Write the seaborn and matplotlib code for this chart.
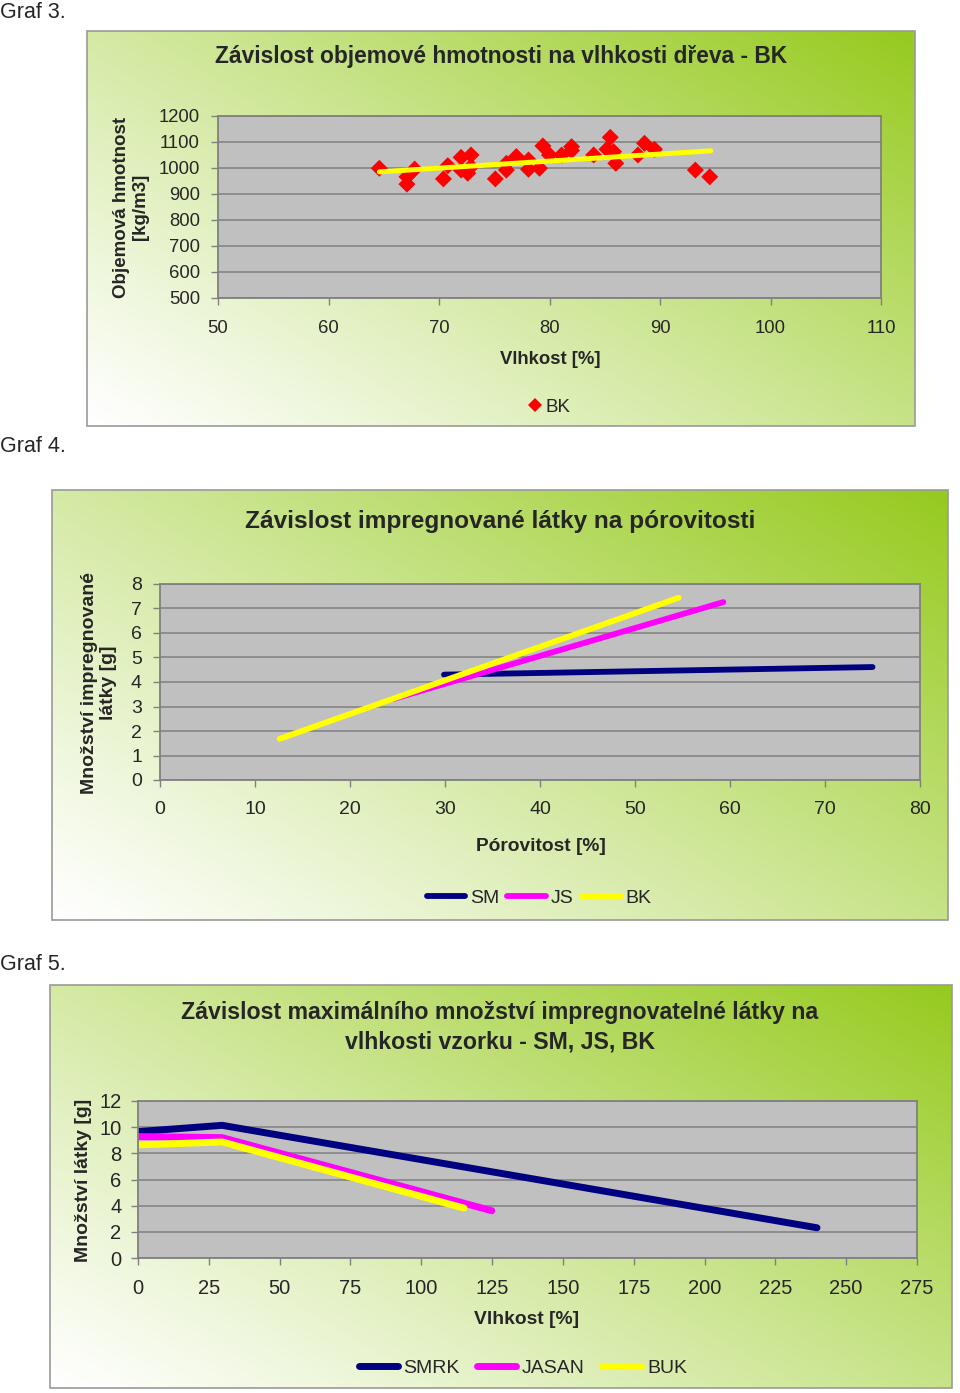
import numpy as np
import pandas as pd
import matplotlib
matplotlib.use("Agg")
import matplotlib.pyplot as plt
from matplotlib.lines import Line2D
from matplotlib.patches import Rectangle
import seaborn as sns

# ---------------- data ----------------
# Graf 3 - density vs moisture (BK)
bk_moisture = [64.6, 67.1, 67.1, 67.8, 70.4, 70.8, 72.0, 72.9, 72.0, 72.6, 72.9,
               75.1, 76.1, 76.1, 77.0, 78.1, 78.1, 79.1, 79.4, 80.0, 81.1, 82.0,
               82.0, 84.0, 85.2, 85.5, 85.8, 86.0, 88.0, 88.6, 89.5, 93.2, 94.5]
bk_density = [999, 966, 938, 996, 958, 1009, 1041, 1050, 992, 980, 1005,
              958, 992, 1018, 1044, 1031, 995, 999, 1085, 1050, 1050, 1082,
              1067, 1050, 1072, 1118, 1063, 1018, 1050, 1095, 1072, 992, 966]
trend_x = [64.6, 94.6]
trend_y = [985, 1066]

# Graf 4 - impregnated substance vs porosity
por_series = ["SM", "SM", "JS", "JS", "BK", "BK"]
por_x = [29.9, 75.0, 24.5, 59.3, 12.6, 54.6]
por_y = [4.30, 4.61, 3.30, 7.26, 1.68, 7.44]

# Graf 5 - max impregnable substance vs moisture
moist_series = ["SMRK"] * 3 + ["JASAN"] * 3 + ["BUK"] * 3
moist_x = [0, 29.7, 239.7, 0, 29.7, 124.9, 0, 29.7, 115.1]
moist_y = [9.66, 10.14, 2.31, 9.28, 9.20, 3.61, 8.64, 8.87, 3.81]

colors4 = {"SM": "#000080", "JS": "#FF00FF", "BK": "#FFFF00"}
colors5 = {"SMRK": "#000080", "JASAN": "#FF00FF", "BUK": "#FFFF00"}

# ---------------- style ----------------
sns.set_theme(style="white")
plt.rcParams["font.family"] = ["Liberation Sans", "DejaVu Sans"]

W, H = 960, 1393
fig = plt.figure(figsize=(W / 100, H / 100), dpi=100)
fig.patch.set_facecolor("white")


def fx(px):
    return px / W


def fy(py):
    return 1 - py / H


def gradient_box(x0, y0, x1, y1):
    ax = fig.add_axes([fx(x0), fy(y1), fx(x1 - x0), (y1 - y0) / H], zorder=0)
    h, w = 200, 300
    xn = np.linspace(0, 1, w)[None, :]
    yn = np.linspace(1, 0, h)[:, None]
    t = (0.62 * xn + 0.48 * yn) / 1.10
    t = np.clip(t, 0, 1) ** 1.1
    light = np.array([1.0, 1.0, 1.0])
    dark = np.array([150, 202, 30]) / 255.0
    img = light[None, None, :] * (1 - t[..., None]) + dark[None, None, :] * t[..., None]
    ax.imshow(img, aspect="auto", extent=[0, 1, 0, 1], interpolation="bilinear")
    ax.set_xlim(0, 1)
    ax.set_ylim(0, 1)
    ax.axis("off")
    ax.add_patch(Rectangle((0, 0), 1, 1, transform=ax.transAxes, fill=False,
                           edgecolor="#9a9a9a", linewidth=1.2, clip_on=False))
    return ax


def plot_axes(x0, y0, x1, y1):
    ax = fig.add_axes([fx(x0), fy(y1), fx(x1 - x0), (y1 - y0) / H], zorder=2)
    ax.set_facecolor("#C0C0C0")
    for s in ax.spines.values():
        s.set_color("#808080")
        s.set_linewidth(1.3)
    ax.grid(axis="y", color="#808080", linewidth=1.1)
    ax.grid(axis="x", visible=False)
    ax.set_axisbelow(True)
    ax.tick_params(axis="both", which="major", direction="out", length=5,
                   width=1, color="#808080", left=True, bottom=True)
    return ax


# ---------------- Graf 3 ----------------
fig.text(fx(0), fy(12), "Graf 3.", fontsize=15.5, va="center", ha="left")
gradient_box(87, 31, 915, 426)
ax1 = plot_axes(218, 116, 881, 298)
sns.scatterplot(x=bk_moisture, y=bk_density, marker="D", color="#FF0000",
                s=75, edgecolor="none", ax=ax1, zorder=3, legend=False)
ax1.plot(trend_x, trend_y, color="#FFFF00", linewidth=3.6,
         solid_capstyle="round", zorder=4)
ax1.set_xlim(50, 110)
ax1.set_ylim(500, 1200)
ax1.set_xticks(np.arange(50, 111, 10))
ax1.set_yticks(np.arange(500, 1201, 100))
ax1.tick_params(axis="x", labelsize=13.3, pad=11)
ax1.tick_params(axis="y", labelsize=13.3, pad=8)
fig.text(fx(501), fy(57), "Závislost objemové hmotnosti na vlhkosti dřeva - BK",
         fontsize=16.4, fontweight="bold", ha="center", va="center")
fig.text(fx(550), fy(359), "Vlhkost [%]", fontsize=13.3, fontweight="bold",
         ha="center", va="center")
fig.text(fx(131), fy(207), "Objemová hmotnost\n[kg/m3]", fontsize=13.5,
         fontweight="bold", ha="center", va="center", rotation=90,
         multialignment="center", linespacing=1.15)
leg1 = [Line2D([], [], linestyle="none", marker="D", color="#FF0000",
               markersize=7.5, markeredgewidth=0)]
fig.legend(leg1, ["BK"], loc="center", bbox_to_anchor=(fx(549), fy(407)),
           frameon=False, fontsize=13.5, handletextpad=0.15, handlelength=0.8)

# ---------------- Graf 4 ----------------
fig.text(fx(0), fy(447), "Graf 4.", fontsize=15.5, va="center", ha="left")
gradient_box(52, 490, 948, 920)
ax2 = plot_axes(160, 584, 920, 780)
df4 = pd.DataFrame({"series": por_series, "x": por_x, "y": por_y})
sns.lineplot(data=df4, x="x", y="y", hue="series", palette=colors4,
             estimator=None, sort=False, linewidth=4.2, ax=ax2, legend=False,
             solid_capstyle="round")
ax2.set_xlim(0, 80)
ax2.set_ylim(0, 8)
ax2.set_xticks(np.arange(0, 81, 10))
ax2.set_yticks(np.arange(0, 9, 1))
ax2.tick_params(axis="x", labelsize=14, pad=10)
ax2.tick_params(axis="y", labelsize=14, pad=8)
ax2.set_xlabel("")
ax2.set_ylabel("")
fig.text(fx(500), fy(521), "Závislost impregnované látky na pórovitosti",
         fontsize=17.6, fontweight="bold", ha="center", va="center")
fig.text(fx(541), fy(846), "Pórovitost [%]", fontsize=13.8, fontweight="bold",
         ha="center", va="center")
fig.text(fx(99), fy(683), "Množství impregnované\nlátky [g]", fontsize=14,
         fontweight="bold", ha="center", va="center", rotation=90,
         multialignment="center", linespacing=1.1)
leg2 = [Line2D([], [], color=colors4[k], linewidth=4.2, solid_capstyle="round")
        for k in ["SM", "JS", "BK"]]
fig.legend(leg2, ["SM", "JS", "BK"], loc="center", ncol=3,
           bbox_to_anchor=(fx(539), fy(898)), frameon=False, fontsize=14,
           handlelength=2.0, handletextpad=0.25, columnspacing=0.4)

# ---------------- Graf 5 ----------------
fig.text(fx(0), fy(965), "Graf 5.", fontsize=15.5, va="center", ha="left")
gradient_box(50, 985, 952, 1388)
ax3 = plot_axes(138, 1101, 917, 1258)
df5 = pd.DataFrame({"series": moist_series, "x": moist_x, "y": moist_y})
sns.lineplot(data=df5, x="x", y="y", hue="series", palette=colors5,
             estimator=None, sort=False, linewidth=5.0, ax=ax3, legend=False,
             solid_capstyle="round")
ax3.set_xlim(0, 275)
ax3.set_ylim(0, 12)
ax3.set_xticks(np.arange(0, 276, 25))
ax3.set_yticks(np.arange(0, 13, 2))
ax3.tick_params(axis="x", labelsize=14.5, pad=10)
ax3.tick_params(axis="y", labelsize=14.5, pad=7)
ax3.set_xlabel("")
ax3.set_ylabel("")
fig.text(fx(500), fy(1027),
         "Závislost maximálního množství impregnovatelné látky na\nvlhkosti vzorku - SM, JS, BK",
         fontsize=16.7, fontweight="bold", ha="center", va="center",
         multialignment="center", linespacing=1.35)
fig.text(fx(527), fy(1320), "Vlhkost [%]", fontsize=13.9, fontweight="bold",
         ha="center", va="center")
fig.text(fx(84), fy(1180), "Množství látky [g]", fontsize=14,
         fontweight="bold", ha="center", va="center", rotation=90)
leg3 = [Line2D([], [], color=colors5[k], linewidth=5.0, solid_capstyle="round")
        for k in ["SMRK", "JASAN", "BUK"]]
fig.legend(leg3, ["SMRK", "JASAN", "BUK"], loc="center", ncol=3,
           bbox_to_anchor=(fx(523), fy(1368)), frameon=False, fontsize=14,
           handlelength=2.0, handletextpad=0.3, columnspacing=0.9)

fig.savefig("out.png", dpi=100)
